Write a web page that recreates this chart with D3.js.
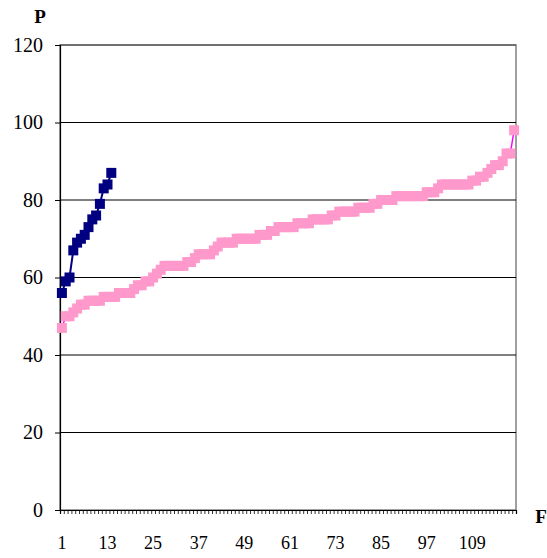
<!DOCTYPE html>
<html>
<head>
<meta charset="utf-8">
<script src="https://cdn.jsdelivr.net/npm/d3@7"></script>
<style>
  html, body { margin: 0; padding: 0; background: #fff; }
  svg { display: block; }
  text { font-family: "Liberation Serif", "Times New Roman", serif; }
</style>
</head>
<body>
<svg id="chart" width="547" height="558"></svg>
<script>
// ---- data ----
const categories = d3.range(1, 121);            // 120 categories on the F axis
const xTickLabels = [1, 13, 25, 37, 49, 61, 73, 85, 97, 109];
const yTickValues = [0, 20, 40, 60, 80, 100, 120];

const pinkValues = [
  47, 50, 50, 51, 52, 53, 53, 54, 54, 54,
  54, 55, 55, 55, 55, 56, 56, 56, 56, 57,
  58, 58, 59, 59, 60, 61, 62, 63, 63, 63,
  63, 63, 63, 64, 64, 65, 66, 66, 66, 66,
  67, 68, 69, 69, 69, 69, 70, 70, 70, 70,
  70, 70, 71, 71, 71, 72, 72, 73, 73, 73,
  73, 73, 74, 74, 74, 74, 75, 75, 75, 75,
  75, 76, 76, 77, 77, 77, 77, 77, 78, 78,
  78, 78, 79, 79, 80, 80, 80, 80, 81, 81,
  81, 81, 81, 81, 81, 81, 82, 82, 82, 83,
  84, 84, 84, 84, 84, 84, 84, 84, 85, 85,
  86, 86, 87, 88, 89, 89, 90, 92, 92, 98
];
const navyValues = [56, 59, 60, 67, 69, 70, 71, 73, 75, 76, 79, 83, 84, 87];

// ---- layout ----
const svg = d3.select("#chart");
const mLeft = 60, mRight = 516, mTop = 45, mBottom = 510;

const x = d3.scaleBand().domain(categories).range([mLeft, mRight]).paddingInner(0).paddingOuter(0);
const xEdge = d3.scaleLinear().domain([0, categories.length]).range([mLeft, mRight]);
const y = d3.scaleLinear().domain([0, 120]).range([mBottom, mTop]);

// plot border
svg.append("rect")
  .attr("x", mLeft).attr("y", mTop)
  .attr("width", mRight - mLeft).attr("height", mBottom - mTop)
  .attr("fill", "none").attr("stroke", "#808080").attr("stroke-width", 1.5);

// gridlines
svg.append("g").selectAll("line")
  .data(yTickValues.filter(v => v > 0 && v < 120))
  .join("line")
  .attr("x1", mLeft).attr("x2", mRight)
  .attr("y1", d => y(d)).attr("y2", d => y(d))
  .attr("stroke", "#000").attr("stroke-width", 1);

// top line at 120 (darker)
svg.append("line")
  .attr("x1", mLeft).attr("x2", mRight)
  .attr("y1", y(120)).attr("y2", y(120))
  .attr("stroke", "#404040").attr("stroke-width", 1);

// y axis
const yAxis = svg.append("g")
  .attr("transform", `translate(${mLeft},0)`)
  .attr("font-family", "Liberation Serif")
  .call(d3.axisLeft(y).tickValues(yTickValues).tickSize(5).tickPadding(12).tickFormat(d3.format("d")));
yAxis.attr("font-family", "Liberation Serif");
yAxis.select(".domain").attr("stroke", "#000").attr("stroke-width", 1.2);
yAxis.selectAll(".tick line").attr("stroke", "#000");
yAxis.selectAll("text").attr("font-size", 20).attr("fill", "#000")
  .style("font-family", "'Liberation Serif', serif");

// x axis: minor ticks at every category boundary
const xMinor = svg.append("g")
  .attr("transform", `translate(0,${mBottom})`)
  .call(d3.axisBottom(xEdge).tickValues(d3.range(0, categories.length + 1)).tickSize(4).tickFormat(""));
xMinor.select(".domain").attr("stroke", "#000").attr("stroke-width", 1.2);
xMinor.selectAll(".tick line").attr("stroke", "#000").attr("stroke-width", 0.8);

// x axis labels at category centers
const xLab = svg.append("g")
  .attr("transform", `translate(0,${mBottom})`)
  .call(d3.axisBottom(x).tickValues(xTickLabels).tickSize(0).tickPadding(26));
xLab.attr("font-family", "Liberation Serif");
xLab.select(".domain").remove();
xLab.selectAll("text").attr("font-size", 18).attr("fill", "#000")
  .style("font-family", "'Liberation Serif', serif");

// axis titles
svg.append("text").attr("x", 40).attr("y", 23)
  .attr("text-anchor", "middle").attr("font-size", 19).attr("font-weight", "bold").text("P");
svg.append("text").attr("x", 541).attr("y", 523)
  .attr("text-anchor", "middle").attr("font-size", 19).attr("font-weight", "bold").text("F");

// series
const cx = i => x(categories[i]) + x.bandwidth() / 2;
const line = d3.line().x((d, i) => cx(i)).y(d => y(d));
const ms = 10;

function drawSeries(values, lineColor, markerColor, lw) {
  const g = svg.append("g");
  g.append("path").datum(values)
    .attr("d", line).attr("fill", "none")
    .attr("stroke", lineColor).attr("stroke-width", lw);
  g.selectAll("rect").data(values).join("rect")
    .attr("x", (d, i) => cx(i) - ms / 2)
    .attr("y", d => y(d) - ms / 2)
    .attr("width", ms).attr("height", ms)
    .attr("fill", markerColor);
}
drawSeries(pinkValues, "#FF00FF", "#FF99CC", 1.5);
drawSeries(navyValues, "#000080", "#000080", 2);
</script>
</body>
</html>
